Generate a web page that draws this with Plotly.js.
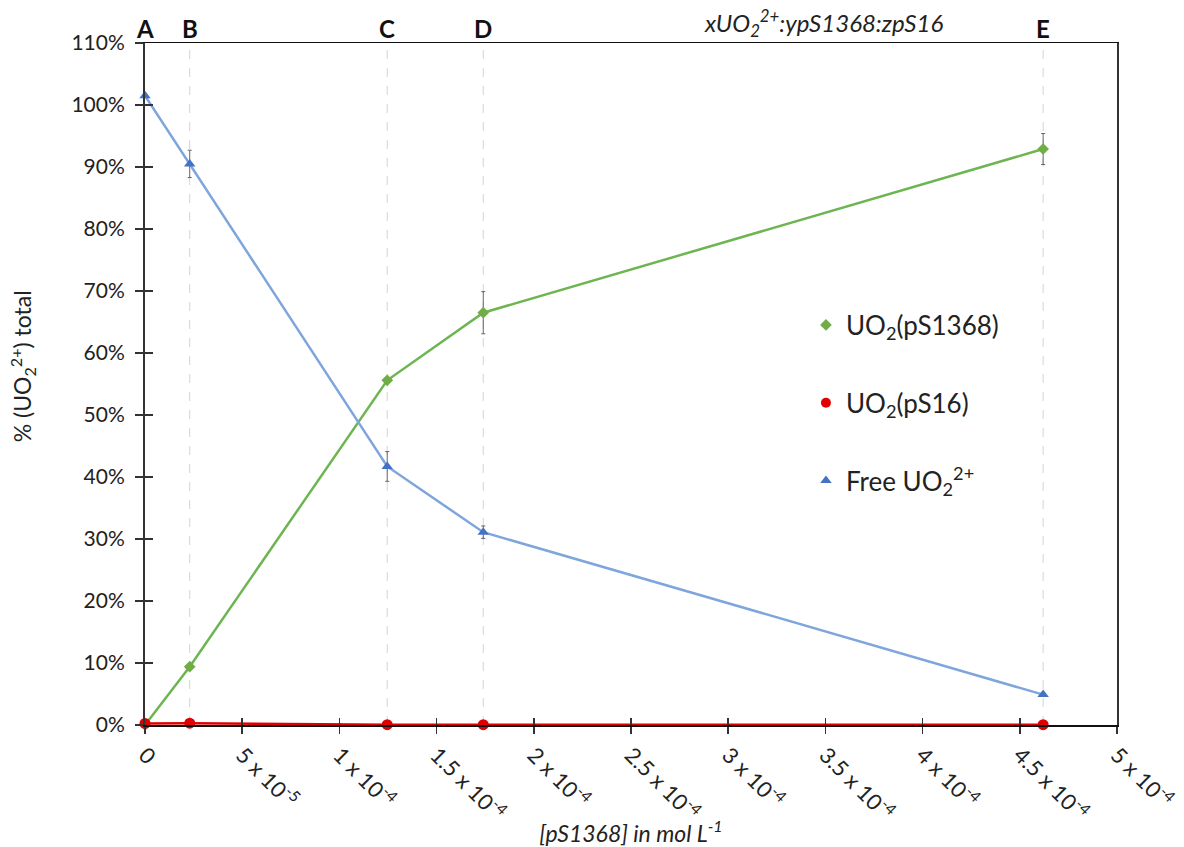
<!DOCTYPE html>
<html><head><meta charset="utf-8">
<script src="https://cdn.plot.ly/plotly-3.0.1.min.js"></script>
<style>html,body{margin:0;padding:0;background:#fff}#chart{width:1184px;height:847px}</style>
</head><body><div id="chart"></div>
<script>
const pointLabels = ['A','B','C','D','E'];
const conc = [0, 2.3e-5, 1.246e-4, 1.74e-4, 4.62e-4];
const uo2pS1368 = [0, 9.4, 55.6, 66.5, 92.9];
const uo2pS1368Err = [0, 0, 0, 3.4, 2.5];
const uo2pS16 = [0.25, 0.3, 0.05, 0.05, 0.05];
const freeUO2 = [101.5, 90.5, 41.7, 31.1, 4.9];
const freeUO2Err = [0, 2.2, 2.4, 1.0, 0];
const xTickVals = [0, 5e-5, 1e-4, 1.5e-4, 2e-4, 2.5e-4, 3e-4, 3.5e-4, 4e-4, 4.5e-4, 5e-4];
const xTickText = ['0','5 x 10<sup>-5</sup>','1 x 10<sup>-4</sup>','1.5 x 10<sup>-4</sup>','2 x 10<sup>-4</sup>','2.5 x 10<sup>-4</sup>','3 x 10<sup>-4</sup>','3.5 x 10<sup>-4</sup>','4 x 10<sup>-4</sup>','4.5 x 10<sup>-4</sup>','5 x 10<sup>-4</sup>'];
const yTickVals = [0,10,20,30,40,50,60,70,80,90,100,110];
const yTickText = ['0%','10%','20%','30%','40%','50%','60%','70%','80%','90%','100%','110%'];

const FONT = 'Lato, "Open Sans", sans-serif';
const green = '#6db551', greenM = '#70ad47';
const red = '#e00000';
const blue = '#7ea6dd', blueM = '#4472c4';

const traces = [
  {x: conc, y: uo2pS1368, mode: 'lines+markers', showlegend: false, cliponaxis: false,
   line: {color: green, width: 2.5}, marker: {symbol: 'diamond', size: 9, color: greenM},
   error_y: {type: 'data', array: uo2pS1368Err, visible: true, color: '#666', thickness: 1, width: 2}},
  {x: conc, y: uo2pS16, mode: 'lines+markers', showlegend: false, cliponaxis: false,
   line: {color: red, width: 2.5}, marker: {symbol: 'circle', size: 11, color: red}},
  {x: conc, y: freeUO2, mode: 'lines+markers', showlegend: false, cliponaxis: false,
   line: {color: blue, width: 2.5}, marker: {symbol: 'triangle-up', size: 10, color: blueM},
   error_y: {type: 'data', array: freeUO2Err, visible: true, color: '#666', thickness: 1, width: 2}},
  {x: [null], y: [null], mode: 'markers', name: 'UO<sub>2</sub>(pS1368)', legendgroup: 'a',
   marker: {symbol: 'diamond', size: 9, color: greenM}},
  {x: [null], y: [null], mode: 'markers', name: 'UO<sub>2</sub>(pS16)', legendgroup: 'b',
   marker: {symbol: 'circle', size: 10, color: red}},
  {x: [null], y: [null], mode: 'markers', name: 'Free UO<sub>2</sub><sup>2+</sup>', legendgroup: 'c',
   marker: {symbol: 'triangle-up', size: 10, color: blueM}}
];

const shapes = conc.slice(1).map(v => ({
  type: 'line', xref: 'x', yref: 'paper', x0: v, x1: v, y0: 0, y1: 1,
  line: {color: '#d4d4d4', width: 1, dash: 'dash'}, layer: 'below'
}));

const annotations = pointLabels.map((t, i) => ({
  text: '<b>' + t + '</b>', x: conc[i], xref: 'x', y: 1, yref: 'paper',
  yanchor: 'bottom', xanchor: 'center', showarrow: false, yshift: -2,
  font: {family: FONT, size: 24, color: '#111'}
}));
annotations.push({
  text: '<i>xUO<sub>2</sub><sup>2+</sup>:ypS1368:zpS16</i>', x: 0.698, xref: 'paper', y: 1, yref: 'paper',
  yanchor: 'bottom', xanchor: 'center', showarrow: false, yshift: 0,
  font: {family: FONT, size: 24, color: '#222'}
});
annotations.push({
  text: '% (UO<sub>2</sub><sup>2+</sup>) total', x: -0.1265, xref: 'paper', y: 0.526, yref: 'paper',
  xanchor: 'center', yanchor: 'middle', textangle: -90, showarrow: false,
  font: {family: FONT, size: 23, color: '#222'}
});

const layout = {
  width: 1184, height: 847,
  margin: {l: 145, r: 67, t: 43, b: 122},
  paper_bgcolor: '#fff', plot_bgcolor: '#fff',
  font: {family: FONT, color: '#222'},
  showlegend: true,
  legend: {x: 0.68, y: 0.621, xanchor: 'left', yanchor: 'top', tracegroupgap: 41,
           font: {family: FONT, size: 26, color: '#222'}, bgcolor: 'rgba(0,0,0,0)'},
  xaxis: {range: [0, 5e-4], tickvals: xTickVals, ticktext: xTickText, tickangle: 45,
          showgrid: false, zeroline: false, showline: true, linecolor: '#111', linewidth: 1.5,
          mirror: true, ticks: 'outside', ticklen: 7, tickcolor: '#333', tickwidth: 1.5,
          tickfont: {family: FONT, size: 22, color: '#222'},
          title: {text: '<i>[pS1368] in mol L<sup>-1</sup></i>', font: {family: FONT, size: 23, color: '#222'}, standoff: 4}},
  xaxis2: {range: [0, 5e-4], overlaying: 'x', anchor: 'y', side: 'bottom', tickvals: xTickVals,
           showticklabels: false, showgrid: false, zeroline: false, showline: false,
           ticks: 'inside', ticklen: 7, tickcolor: '#333', tickwidth: 1.5},
  yaxis: {range: [0, 110], tickvals: yTickVals, ticktext: yTickText, showgrid: false, zeroline: false,
          showline: true, linecolor: '#333', linewidth: 2, mirror: true,
          ticks: 'outside', ticklen: 8, tickcolor: '#333', tickwidth: 1.5, ticklabelstandoff: 6,
          tickfont: {family: FONT, size: 21, color: '#222'}},
  yaxis2: {range: [0, 110], overlaying: 'y', anchor: 'x', side: 'left', tickvals: yTickVals,
           showticklabels: false, showgrid: false, zeroline: false, showline: false,
           ticks: 'inside', ticklen: 8, tickcolor: '#333', tickwidth: 1.5},
  shapes: shapes,
  annotations: annotations
};
traces.push({x: [null], y: [null], xaxis: 'x2', yaxis: 'y2', showlegend: false, hoverinfo: 'skip'});

Plotly.newPlot('chart', traces, layout, {displayModeBar: false, staticPlot: true});
</script>
</body></html>
